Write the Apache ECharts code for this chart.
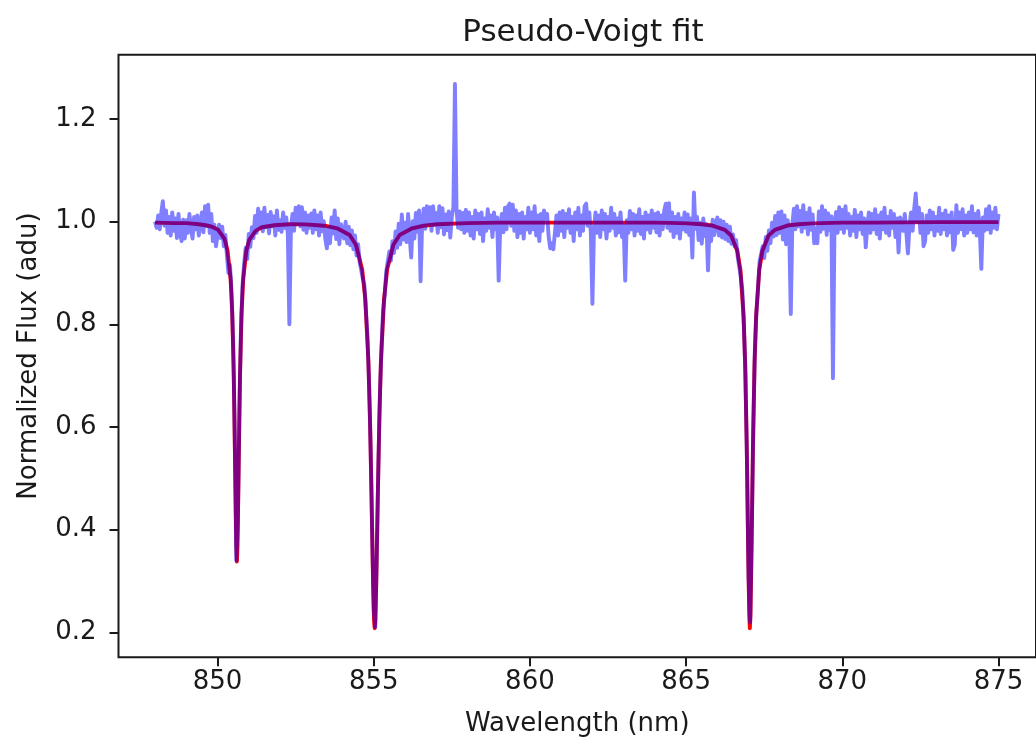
<!DOCTYPE html>
<html>
<head>
<meta charset="utf-8">
<script src="https://cdn.jsdelivr.net/npm/echarts@6/dist/echarts.min.js"></script>
<style>
html,body{margin:0;padding:0;background:#fff;}
#chart{width:1036px;height:747px;}
</style>
</head>
<body>
<div id="chart"></div>
<script>
// ---- data ----
const titleText = 'Pseudo-Voigt fit';
const xLabel = 'Wavelength (nm)';
const yLabel = 'Normalized Flux (adu)';
const xTicks = [850, 855, 860, 865, 870, 875];
const yTicks = [0.2, 0.4, 0.6, 0.8, 1.0, 1.2];

// observed spectrum, sampled on a regular wavelength grid
const waveStart = 848.0;
const waveStep = 0.05;
const flux = [
1.000,0.988,1.012,0.985,1.018,1.040,0.992,1.022,0.978,1.009,0.973,1.018,0.982,1.006,0.968,1.015,0.978,0.962,1.004,0.967,
1.003,0.978,1.015,0.988,0.967,1.009,0.985,1.012,0.973,0.997,1.018,0.979,1.030,0.991,1.033,0.978,1.015,0.962,0.994,0.952,
0.950,0.994,0.968,0.990,0.952,0.974,0.934,0.900,0.915,0.860,0.766,0.591,0.340,0.412,0.633,0.793,0.875,0.917,0.949,0.927,
0.976,0.951,0.989,0.968,1.011,0.978,1.025,0.988,1.018,0.981,1.027,0.989,1.013,0.977,1.019,0.991,1.010,0.973,1.022,0.984,
1.003,0.980,1.018,0.988,1.008,0.976,0.800,0.988,1.015,0.982,1.027,0.996,1.030,0.991,1.028,0.984,1.018,0.978,1.012,0.988,
1.016,0.978,1.022,0.985,1.012,0.973,1.018,0.981,1.001,0.967,0.948,0.989,0.958,1.008,0.977,1.022,0.966,1.006,0.956,0.995,
0.994,0.967,1.000,0.958,0.990,0.954,0.983,0.946,0.973,0.934,0.956,0.921,0.924,0.889,0.877,0.826,0.777,0.685,0.563,0.391,
0.245,0.210,0.361,0.527,0.669,0.757,0.827,0.855,0.903,0.900,0.942,0.924,0.962,0.939,0.981,0.949,0.996,0.956,1.014,0.965,
0.998,0.960,1.015,0.970,0.930,1.001,0.967,1.017,0.980,1.022,0.884,0.996,1.025,0.986,1.030,0.996,1.028,0.982,1.030,0.994,
1.017,0.978,1.030,0.989,1.026,0.975,1.014,0.983,1.020,0.969,1.010,1.028,1.268,1.024,0.988,1.020,0.985,1.017,0.978,1.023,
0.982,1.018,0.973,1.009,0.967,1.022,0.985,1.015,0.976,1.018,0.962,1.006,0.982,1.024,0.988,1.012,0.970,1.018,0.985,1.008,
0.885,0.992,1.015,0.979,1.027,0.985,1.030,1.035,0.992,1.033,0.982,1.022,0.970,1.015,0.978,1.018,0.967,1.009,0.985,1.027,
0.978,1.018,0.985,1.030,0.973,1.012,0.962,1.015,0.982,1.022,1.006,1.015,0.970,0.948,0.958,0.946,0.978,1.012,0.973,1.018,
0.982,1.021,0.970,1.015,0.988,1.024,0.978,1.009,0.962,1.018,0.985,1.027,0.973,1.012,0.982,1.030,1.035,0.992,1.018,0.978,
0.840,0.985,1.018,0.978,1.012,0.970,1.022,0.985,1.015,0.967,1.009,0.982,1.027,0.988,1.015,0.973,1.006,0.979,1.018,0.970,
0.992,0.885,1.003,0.978,1.021,0.985,1.015,0.973,1.012,0.982,1.024,0.976,1.009,0.967,1.018,0.985,1.012,0.978,1.022,0.988,
1.015,0.979,1.018,0.973,1.012,0.985,1.022,1.035,0.988,1.036,0.982,1.018,0.970,1.009,0.978,1.015,0.967,1.006,0.985,1.018,
0.980,1.014,0.974,1.006,0.930,1.057,0.986,1.009,0.964,0.998,0.957,1.006,0.972,0.995,0.905,0.992,0.962,1.004,0.974,0.997,
1.008,0.973,1.003,0.969,1.000,0.966,0.994,0.962,0.990,0.957,0.975,0.952,0.964,0.932,0.930,0.892,0.866,0.796,0.702,0.525,
0.305,0.220,0.393,0.598,0.750,0.824,0.868,0.922,0.921,0.952,0.929,0.970,0.943,0.983,0.958,0.998,0.971,1.011,0.974,1.018,
0.978,1.020,0.965,1.012,0.956,1.003,0.982,0.820,0.995,1.025,0.985,1.030,0.991,1.021,0.980,1.032,0.988,1.017,0.975,1.026,
0.984,1.014,0.958,0.987,0.958,1.020,0.980,1.030,0.986,1.022,0.974,1.016,0.983,1.010,0.695,0.993,1.019,0.978,1.028,0.986,
1.023,0.978,1.030,0.988,1.015,0.973,1.009,0.982,1.023,0.970,1.012,0.985,1.018,0.976,1.006,0.950,0.992,1.018,0.978,1.015,
0.985,1.024,0.976,1.012,0.967,1.018,0.985,1.027,0.978,1.009,0.973,1.021,0.988,1.015,0.970,1.006,0.940,1.008,1.000,0.982,
1.015,0.978,0.938,0.992,1.018,0.982,1.024,1.055,1.000,1.027,0.978,1.015,0.952,0.962,1.012,0.978,1.022,0.985,1.018,0.973,
1.009,0.982,1.027,0.976,1.015,0.985,1.022,0.973,1.012,0.979,1.018,0.945,0.955,1.032,0.978,1.018,0.985,1.024,0.973,1.012,
0.978,1.018,0.985,1.030,0.979,1.015,0.973,1.021,0.985,0.908,1.008,0.982,1.024,0.985,1.030,0.978,1.018,0.988,1.027,0.985,
1.015
];

// pseudo-Voigt fit curve
const fitWave = [848.0,848.6,849.0,849.4,849.62,849.82,850.02,850.22,850.32,850.42,850.47,850.52,850.57,850.60,850.62,850.64,850.67,850.72,850.77,850.82,850.92,851.02,851.22,851.42,851.82,852.3,852.8,853.2,853.5,853.83,854.23,854.43,854.63,854.73,854.83,854.88,854.93,854.98,855.01,855.03,855.05,855.08,855.13,855.18,855.23,855.33,855.43,855.63,855.83,856.23,856.6,857.03,858.0,859,860,861,862,863,864,864.5,865.04,865.5,865.84,866.24,866.44,866.64,866.74,866.84,866.89,866.94,866.99,867.02,867.04,867.06,867.09,867.14,867.19,867.24,867.34,867.44,867.64,867.84,868.24,868.6,869.04,870,871,872,873,874,875.0];
const fitFlux = [0.998,0.997,0.997,0.995,0.993,0.990,0.984,0.967,0.944,0.887,0.823,0.703,0.494,0.369,0.338,0.369,0.494,0.703,0.823,0.886,0.943,0.965,0.982,0.989,0.993,0.995,0.9946,0.993,0.9914,0.987,0.974,0.955,0.907,0.849,0.727,0.617,0.464,0.293,0.224,0.208,0.224,0.293,0.464,0.617,0.727,0.849,0.907,0.955,0.974,0.987,0.992,0.995,0.997,0.998,0.998,0.998,0.998,0.998,0.998,0.9975,0.9966,0.995,0.9924,0.984,0.973,0.943,0.905,0.815,0.722,0.566,0.344,0.234,0.208,0.234,0.344,0.566,0.722,0.815,0.905,0.943,0.973,0.984,0.9924,0.995,0.9966,0.998,0.998,0.9985,0.999,0.999,0.999];

// ---- build series data ----
const specData = flux.map((v, i) => [+(waveStart + i * waveStep).toFixed(2), v]);
const fitData = fitWave.map((w, i) => [w, fitFlux[i]]);

const FONT = 'DejaVu Sans';
const TXT = '#1a1a1a';

const chart = echarts.init(document.getElementById('chart'), null, {renderer: 'canvas'});
chart.setOption({
  animation: false,
  backgroundColor: '#ffffff',
  title: {
    text: titleText,
    left: 578, top: 12, textAlign: 'center',
    textStyle: {fontFamily: FONT, fontSize: 31, fontWeight: 'normal', color: TXT}
  },
  grid: {
    left: 118.5, top: 54.8, width: 920.5, height: 602.5,
    show: true, borderColor: '#1a1a1a', borderWidth: 2, backgroundColor: 'transparent'
  },
  xAxis: {
    type: 'value', min: 846.83, max: 876.2,
    name: xLabel, nameLocation: 'middle', nameGap: 54,
    nameTextStyle: {fontFamily: FONT, fontSize: 26, color: TXT},
    axisLine: {show: false},
    axisTick: {show: true, length: 9, customValues: xTicks, lineStyle: {color: '#1a1a1a', width: 2}},
    axisLabel: {customValues: xTicks, margin: 12, fontFamily: FONT, fontSize: 26, color: TXT,
      formatter: v => String(v)},
    splitLine: {show: false}
  },
  yAxis: {
    type: 'value', min: 0.1513, max: 1.325,
    name: yLabel, nameLocation: 'middle', nameGap: 76, nameRotate: 90,
    nameTextStyle: {fontFamily: FONT, fontSize: 26, color: TXT},
    axisLine: {show: false},
    axisTick: {show: true, length: 9, customValues: yTicks, lineStyle: {color: '#1a1a1a', width: 2}},
    axisLabel: {customValues: yTicks, margin: 22, fontFamily: FONT, fontSize: 26, color: TXT,
      formatter: v => v.toFixed(1)},
    splitLine: {show: false}
  },
  series: [
    {
      type: 'line', data: fitData, showSymbol: false, symbol: 'none',
      lineStyle: {color: '#ff0000', width: 3.9, join: 'round'},
      z: 2, silent: true
    },
    {
      type: 'line', data: specData, showSymbol: false, symbol: 'none',
      lineStyle: {color: 'rgba(0,0,255,0.5)', width: 3.9, join: 'round'},
      z: 3, silent: true
    }
  ]
});
</script>
</body>
</html>
